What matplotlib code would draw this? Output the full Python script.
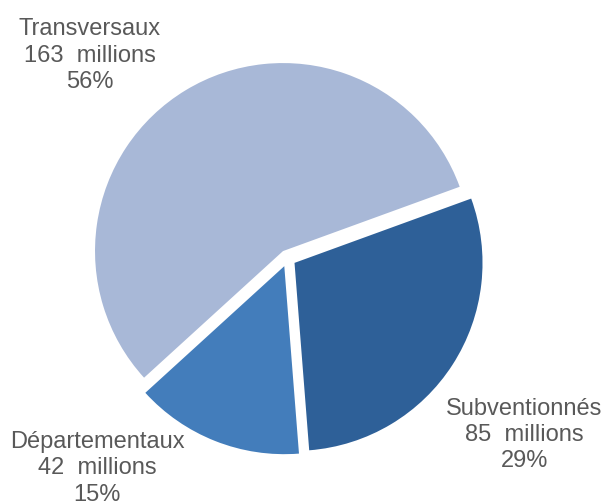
import matplotlib.pyplot as plt

# Budget split (millions)
categories = ["Transversaux", "Départementaux", "Subventionnés"]
values = [163, 42, 85]
percents = [56, 15, 29]
colors = ["#A8B8D7", "#437DBB", "#2E6098"]

# label anchor positions in data units (radius = 1)
label_xy = [(-1.05, 1.083), (-1.013, -1.112), (1.259, -0.935)]

R_PX = 188.0          # pie radius in pixels
CX, CY = 287.4, 259.3  # pie centre in pixels (from top-left)
W, H = 607, 502

fig = plt.figure(figsize=(W / 100, H / 100), dpi=100)
ax = fig.add_axes([0, 0, 1, 1])

ax.pie(values, colors=colors, startangle=20, counterclock=True,
       explode=[0.045] * len(values), radius=1.0,
       wedgeprops=dict(linewidth=0))

ax.set_xlim(-CX / R_PX, (W - CX) / R_PX)
ax.set_ylim(-(H - CY) / R_PX, CY / R_PX)
ax.set_aspect("auto")
ax.axis("off")

for cat, val, pct, (x, y) in zip(categories, values, percents, label_xy):
    ax.text(x, y, f"{cat}\n{val}  millions\n{pct}%", ha="center", va="center",
            multialignment="center", fontsize=17, color="#595959",
            family="Liberation Sans", linespacing=1.25)

fig.savefig("out.png", dpi=100)
